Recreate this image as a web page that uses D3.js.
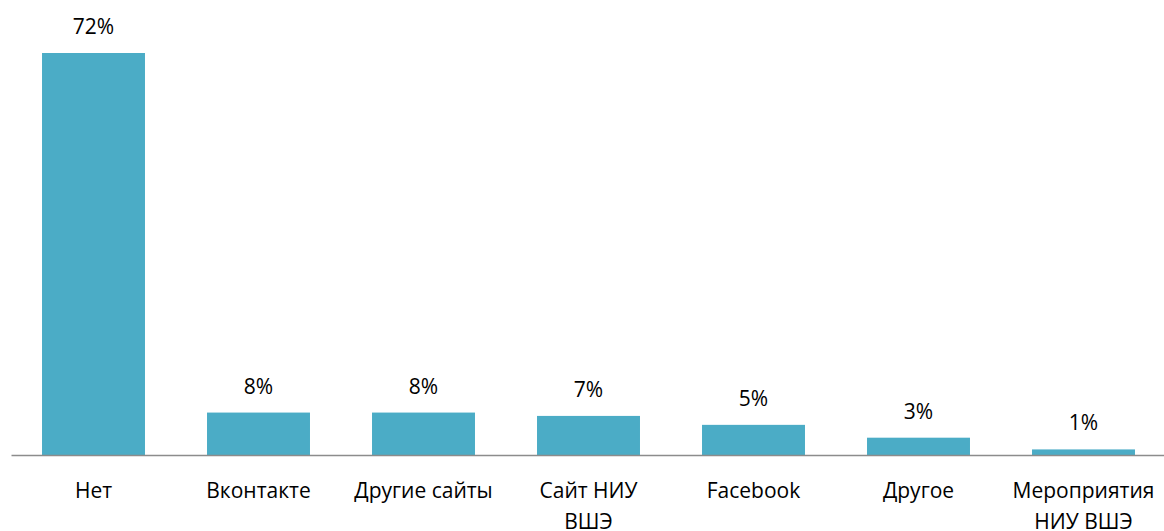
<!DOCTYPE html>
<html>
<head>
<meta charset="utf-8">
<script src="https://cdn.jsdelivr.net/npm/d3@7"></script>
<style>
  body { margin: 0; background: #fff; }
  text { font-family: "Open Sans", sans-serif; fill: #000; }
</style>
</head>
<body>
<svg id="chart" width="1164" height="531"></svg>
<script>
const categories = ["Нет", "Вконтакте", "Другие сайты", "Сайт НИУ ВШЭ", "Facebook", "Другое", "Мероприятия НИУ ВШЭ"];
const tickLines = [["Нет"], ["Вконтакте"], ["Другие сайты"], ["Сайт НИУ", "ВШЭ"], ["Facebook"], ["Другое"], ["Мероприятия", "НИУ ВШЭ"]];
const values = [72, 7.6, 7.6, 7.0, 5.4, 3.1, 1.0];
const valueLabels = ["72%", "8%", "8%", "7%", "5%", "3%", "1%"];

const svg = d3.select("#chart"),
    margin = {top: 53, right: -2, bottom: 76, left: 11},
    width = 1164 - margin.left - margin.right,
    height = 531 - margin.top - margin.bottom;

const g = svg.append("g")
    .attr("transform", "translate(" + margin.left + "," + margin.top + ")");

const x = d3.scaleBand()
    .domain(categories)
    .range([0, width])
    .paddingInner(0.376)
    .paddingOuter(0.188);

const y = d3.scaleLinear()
    .domain([0, 72])
    .range([height, 0]);

// bars
g.selectAll(".bar")
  .data(values)
  .enter()
  .append("rect")
    .attr("class", "bar")
    .attr("x", (d, i) => x(categories[i]))
    .attr("y", d => y(d))
    .attr("width", x.bandwidth())
    .attr("height", d => height - y(d))
    .style("fill", "#4BACC6");

// value labels
g.selectAll(".val")
  .data(values)
  .enter()
  .append("text")
    .attr("class", "val")
    .attr("x", (d, i) => x(categories[i]) + x.bandwidth() / 2)
    .attr("y", d => y(d) - 19)
    .attr("text-anchor", "middle")
    .attr("font-size", "21px")
    .text((d, i) => valueLabels[i]);

// x axis
const xAxis = g.append("g")
    .attr("class", "xAxis")
    .attr("transform", "translate(0," + height + ")")
    .call(d3.axisBottom(x).tickSize(0).tickSizeOuter(0).tickFormat(""));

xAxis.select(".domain")
    .attr("stroke", "#8c8c8c")
    .attr("stroke-width", 1.5);

xAxis.selectAll(".tick text").remove();

xAxis.selectAll(".tick").each(function(d, i) {
  const t = d3.select(this).append("text")
      .attr("text-anchor", "middle")
      .attr("font-size", "21px")
      .attr("y", 43);
  tickLines[i].forEach((line, j) => {
    t.append("tspan")
      .attr("x", 0)
      .attr("dy", j === 0 ? 0 : 31)
      .text(line);
  });
});
</script>
</body>
</html>
